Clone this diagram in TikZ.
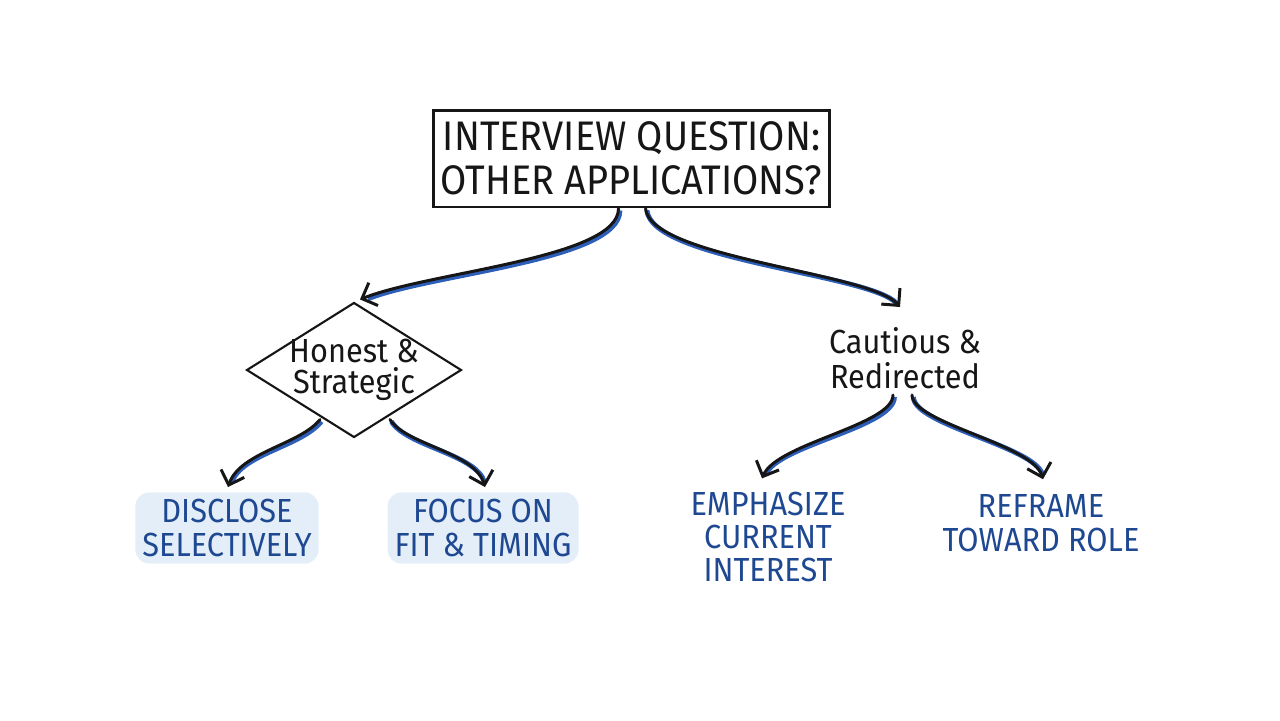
\documentclass[tikz,border=0pt]{standalone}
\usepackage{fontspec}
\setmainfont[FakeStretch=0.92]{Fira Sans}
\usetikzlibrary{shapes.geometric, calc, arrows.meta}
\definecolor{ink}{RGB}{22, 22, 22}
\definecolor{accent}{RGB}{30, 72, 145}
\definecolor{softaccent}{RGB}{228, 238, 248}
\definecolor{shade}{RGB}{45, 95, 185}

\begin{document}
\begin{tikzpicture}[
	x=0.02cm, y=-0.02cm,
	>={Straight Barb[length=7pt, width=14pt]},
	% Styles for the boxes and labels
	questionbox/.style={draw=ink, line width=1.7pt, inner sep=2pt, minimum width=7.94cm, minimum height=1.94cm, align=center, text=ink, font=\fontsize{23.5}{25}\selectfont},
	choicenode/.style={diamond, draw=ink, line width=1.2pt, shape aspect=1.6, inner sep=-3pt, minimum width=4.3cm, minimum height=2.7cm, align=center, text=ink, font=\fontsize{19}{18}\selectfont},
	plainchoice/.style={align=center, text=ink, font=\fontsize{19}{20}\selectfont},
	tipnode/.style={align=center, text=accent, font=\fontsize{19}{19}\selectfont, inner sep=4pt},
	tiphigh/.style={tipnode, fill=softaccent, rounded corners=8pt},
	% Style for the hand drawn connectors
	flow/.style={->, draw=ink, line width=1.7pt, line cap=round, preaction={draw=shade, line width=2.8pt, -, shorten >=4pt, transform canvas={shift={(0.8pt,-1.1pt)}}}}
	]
	\useasboundingbox (0, 0) rectangle (1280, 720);
	
	% ==========================================
	% TOP: THE QUESTION
	% ==========================================
	\node[questionbox] (q) at (631.5, 158.5) {INTERVIEW QUESTION:\\OTHER APPLICATIONS?};
	
	% ==========================================
	% MIDDLE: TWO WAYS TO ANSWER
	% ==========================================
	\node[choicenode] (hon) at (354, 370) {Honest \&\\Strategic};
	\node[plainchoice] (cau) at (905, 358) {Cautious \&\\Redirected};
	
	% ==========================================
	% BOTTOM: TIPS
	% ==========================================
	\node[tiphigh, minimum width=3.62cm, minimum height=1.42cm] (dis) at (227, 528) {DISCLOSE\\SELECTIVELY};
	\node[tiphigh, minimum width=3.8cm, minimum height=1.42cm] (fit) at (483, 528) {FOCUS ON\\FIT \& TIMING};
	\node[tipnode] (emp) at (768, 537) {EMPHASIZE\\CURRENT\\INTEREST};
	\node[tipnode] (ref) at (1041, 523) {REFRAME\\TOWARD ROLE};
	
	% ==========================================
	% CONNECTORS
	% ==========================================
	\draw[flow] ($(q.south)+(-13, 0)$) .. controls +(0, 50) and +(70, -28) .. ($(hon.north)+(6, -2)$);
	\draw[flow] ($(q.south)+(14, 0)$) .. controls +(5, 50) and +(-30, -35) .. ($(cau.north)+(-5, -14)$);
	
	\draw[flow] ($(hon.south)+(-34, -19)$) .. controls +(-20, 25) and +(12, -35) .. ($(dis.north)+(1, -5)$);
	\draw[flow] ($(hon.south)+(36, -19)$) .. controls +(15, 25) and +(-10, -35) .. ($(fit.north)+(2, -5)$);
	
	\draw[flow] ($(cau.south)+(-12, 0)$) .. controls +(0, 30) and +(15, -35) .. ($(emp.north)+(-6, -6)$);
	\draw[flow] ($(cau.south)+(7, 0)$) .. controls +(0, 28) and +(-10, -35) .. ($(ref.north)+(2, -8)$);
	
\end{tikzpicture}
\end{document}
